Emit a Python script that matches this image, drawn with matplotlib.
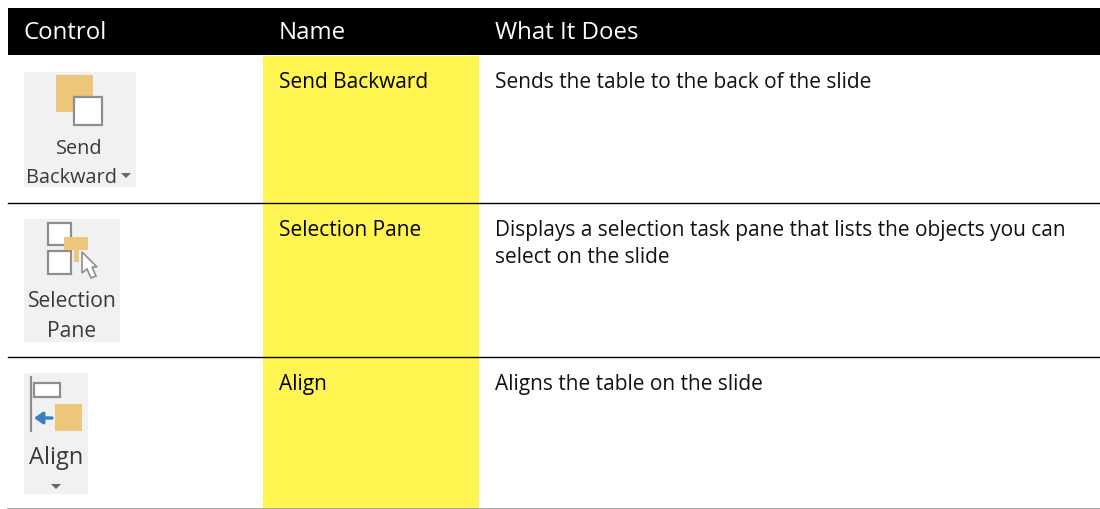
import matplotlib
matplotlib.use("Agg")
import matplotlib.pyplot as plt
import matplotlib.patches as mpatches

# ===== TABLE CONTENT =====
headers = ["Control", "Name", "What It Does"]
names = ["Send Backward", "Selection Pane", "Align"]
descriptions = [
    "Sends the table to the back of the slide",
    "Displays a selection task pane that lists the objects you can\nselect on the slide",
    "Aligns the table on the slide",
]
icon_labels = [["Send", "Backward"], ["Selection", "Pane"], ["Align"]]

plt.rcParams["font.family"] = ["Open Sans", "DejaVu Sans"]

ORANGE = "#EDC67C"
BOX = "#8E8E8E"
PANEL = "#F1F1F1"
ICON_TEXT = "#3A3A3A"
BLUE = "#3F7FBF"

fig = plt.figure(figsize=(11, 5.1), dpi=100)
ax = fig.add_axes([0, 0, 1, 1])
ax.set_xlim(0, 1100)
ax.set_ylim(509, -1)  # pixel coords, y down
ax.set_axis_off()


def rect(x0, y0, x1, y1, fc, ec="none", lw=0, z=2):
    ax.add_patch(mpatches.Rectangle((x0, y0), x1 - x0, y1 - y0, facecolor=fc,
                                    edgecolor=ec, linewidth=lw, zorder=z))


def caret(x, y):
    ax.add_patch(mpatches.Polygon([(x - 5, y - 2), (x + 5, y - 2), (x, y + 3)],
                                  facecolor="#666666", edgecolor="none", zorder=3))


# ===== HEADER + COLUMN =====
rect(8, 8, 1100, 55, "black")
rect(263, 56, 479, 510, "#FFF450", z=1)
for x, h in zip([23.5, 279, 495], headers):
    ax.text(x, 32, h, color="white", fontsize=17.3, va="center", ha="left")

# ===== ROWS =====
row_tops = [81.5, 229.5, 383.5]
for y, n, d in zip(row_tops, names, descriptions):
    ax.text(279, y, n, color="black", fontsize=15, va="center", ha="left")
    ax.text(495, y, d.split("\n")[0], color="#111111", fontsize=15, va="center", ha="left")
    if "\n" in d:
        ax.text(495, y + 27, d.split("\n")[1], color="#111111", fontsize=15,
                va="center", ha="left")

ax.plot([8, 1100], [202.5, 202.5], color="black", lw=1, zorder=4)
ax.plot([8, 1100], [356.5, 356.5], color="black", lw=1, zorder=4)
ax.plot([8, 1100], [508.5, 508.5], color="#999999", lw=1.2, zorder=4)

# ===== ICON 1: SEND BACKWARD =====
rect(24, 72, 136, 187, PANEL)
rect(56, 75, 93, 112, ORANGE, z=3)
rect(74, 97, 102, 125, "white", BOX, 1.6, z=4)
ax.text(79, 148.5, icon_labels[0][0], color=ICON_TEXT, fontsize=14.3, va="center", ha="center", zorder=5)
ax.text(71, 177, icon_labels[0][1], color=ICON_TEXT, fontsize=14.3, va="center", ha="center", zorder=5)
caret(126, 175)

# ===== ICON 2: SELECTION PANE =====
rect(24, 219, 120, 342, PANEL)
rect(48, 223, 71, 245, "white", BOX, 1.6, z=3)
rect(48, 251, 71, 274, "white", BOX, 1.6, z=3)
rect(64, 237, 88, 250, ORANGE, z=4)
rect(74, 250, 79, 262, ORANGE, z=4)
cursor = [(82, 252), (82, 273), (87, 269), (91, 278), (96, 276), (92, 267), (97, 267)]
ax.add_patch(mpatches.Polygon(cursor, facecolor="white", edgecolor=BOX, linewidth=1.2, zorder=5))
ax.text(72, 301, icon_labels[1][0], color=ICON_TEXT, fontsize=15.2, va="center", ha="center", zorder=5)
ax.text(72, 331, icon_labels[1][1], color=ICON_TEXT, fontsize=15.2, va="center", ha="center", zorder=5)

# ===== ICON 3: ALIGN =====
rect(24, 373, 88, 494, PANEL)
ax.plot([30.5, 30.5], [377, 431], color=BOX, lw=1.6, zorder=3)
rect(34, 383, 60, 397, "white", BOX, 1.6, z=3)
rect(55, 404, 82, 431, ORANGE, z=3)
ax.annotate("", xy=(34, 418), xytext=(52, 418), zorder=4,
            arrowprops=dict(arrowstyle="-|>,head_width=0.35,head_length=0.5", color=BLUE, lw=2.4,
                            shrinkA=0, shrinkB=0))
ax.text(56, 457, icon_labels[2][0], color=ICON_TEXT, fontsize=17, va="center", ha="center", zorder=5)
caret(56, 486)

fig.savefig("out.png", dpi=100)
